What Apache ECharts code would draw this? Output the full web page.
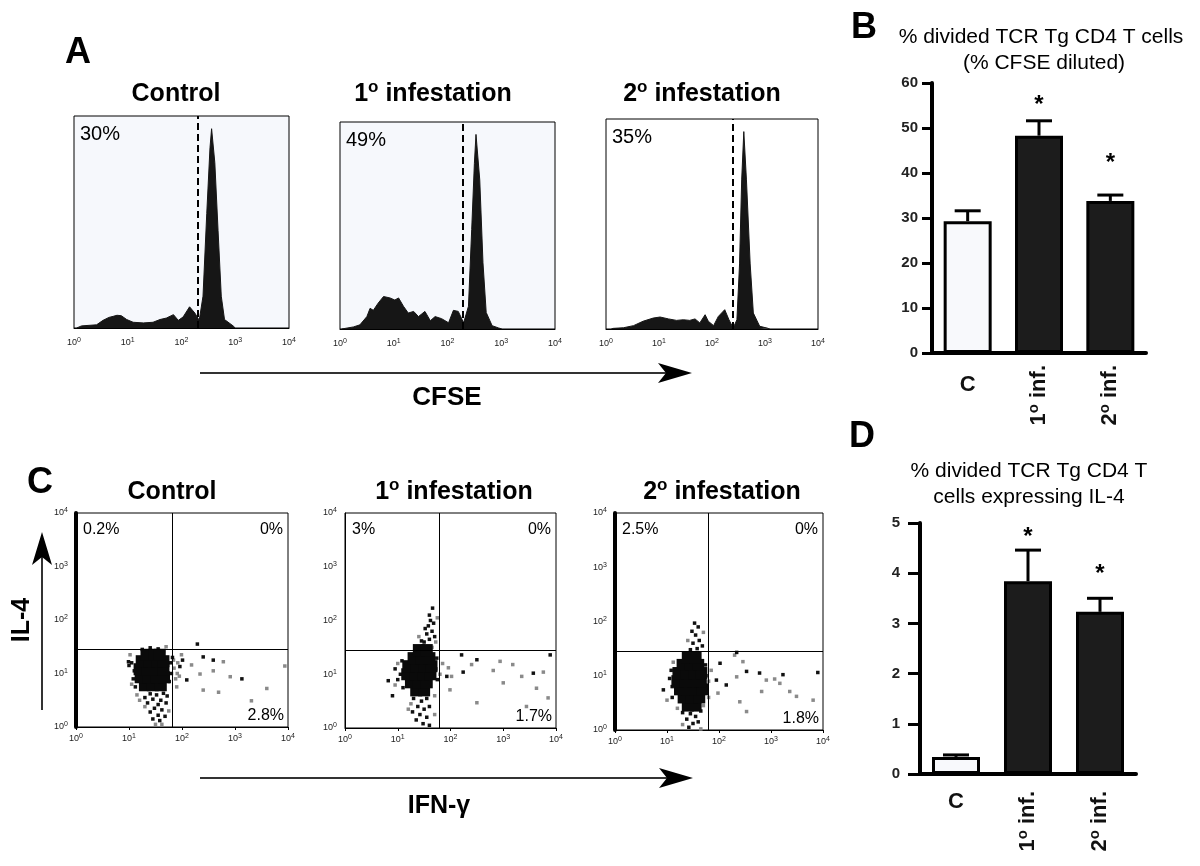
<!DOCTYPE html>
<html><head><meta charset="utf-8">
<script src="https://cdn.jsdelivr.net/npm/echarts@6/dist/echarts.min.js"></script>
<style>html,body{margin:0;padding:0;background:#fff}#c{width:1200px;height:866px}</style>
</head><body><div id="c"></div>
<script>
// ---------------- DATA ----------------
const panelTitles = ['Control', '1° infestation', '2° infestation'];
const decadeExp = ['0', '1', '2', '3', '4'];

// Panel A: CFSE histograms, x = log10(CFSE), y = % of max box height
const histPct = ['30%', '49%', '35%'];
const histGate = [2.30, 2.29, 2.40];
const histControl = [[0.05,0],[0.14,1],[0.42,1.5],[0.54,3.6],[0.65,5],[0.73,5.5],[0.8,6],[0.88,5.8],[0.98,4],[1.1,2.7],[1.29,2.4],[1.47,2.7],[1.6,4],[1.72,4.7],[1.85,6.3],[1.94,3.6],[2.03,5.2],[2.15,10],[2.25,7],[2.33,3.6],[2.4,15],[2.47,54],[2.53,85],[2.56,94],[2.62,78],[2.68,46],[2.74,15],[2.8,4],[2.96,1],[3.0,0]];
const histInf1 = [[0.03,0],[0.06,0.5],[0.25,1],[0.37,2],[0.5,6],[0.56,10],[0.62,9],[0.71,12.5],[0.81,15.7],[0.93,15],[1.02,14],[1.09,15],[1.18,11],[1.27,7.7],[1.37,8.5],[1.46,6],[1.58,8.5],[1.68,4],[1.77,6],[1.89,5],[2.02,3],[2.11,9],[2.2,8.5],[2.3,3],[2.39,11],[2.45,48],[2.5,80],[2.53,94],[2.6,72],[2.66,32],[2.72,8],[2.83,1.6],[2.95,0.5],[3.01,0]];
const histInf2 = [[0.1,0],[0.14,0.3],[0.33,0.6],[0.52,1.6],[0.7,3.7],[0.89,5.2],[1.02,5.7],[1.18,4.8],[1.33,4.1],[1.46,4.4],[1.58,4.1],[1.68,4.8],[1.77,2.9],[1.87,6.8],[1.93,3.7],[2.03,1.6],[2.12,6],[2.24,9.2],[2.32,4.4],[2.4,0.5],[2.47,4.4],[2.52,31],[2.56,71],[2.6,94],[2.65,71],[2.72,31],[2.78,7.6],[2.9,1.3],[3.06,0.3],[3.09,0]];

// Panel C: dot plots, x = log10(IFN-g), y = log10(IL-4)
const quadX = [1.81, 1.78, 1.80];
const quadY = [1.46, 1.45, 1.45];
const quadUL = ['0.2%', '3%', '2.5%'];
const quadUR = ['0%', '0%', '0%'];
const quadLR = ['2.8%', '1.7%', '1.8%'];
const ctrlCore = [[1.3,0.78],[1.45,0.78],[1.6,0.78],[1.22,0.93],[1.37,0.93],[1.52,0.93],[1.66,0.93],[1.2,1.08],[1.35,1.08],[1.5,1.08],[1.65,1.08],[1.24,1.23],[1.38,1.23],[1.53,1.23],[1.65,1.23],[1.33,1.35],[1.48,1.35],[1.58,1.35]];
const ctrlDark = [[1.4,0.62],[1.52,0.6],[1.65,0.63],[1.45,0.52],[1.6,0.5],[1.35,0.45],[1.55,0.42],[1.7,0.45],[1.48,0.35],[1.62,0.32],[1.4,0.28],[1.55,0.22],[1.68,0.2],[1.45,0.15],[1.58,0.12],[1.72,0.58],[1.3,0.55],[1.05,1.2],[1.1,1.05],[1.08,0.9],[1.0,1.15],[0.99,1.22],[1.12,0.75],[1.25,1.45],[1.4,1.48],[1.55,1.46],[1.65,1.42],[1.78,1.2],[1.8,1.0],[1.76,0.85],[1.82,1.3],[1.96,1.13],[2.09,0.88],[2.4,1.31],[2.59,1.25],[2.29,1.55],[3.13,0.9],[2.01,1.25]];
const ctrlLight = [[1.85,1.1],[1.88,0.9],[1.92,1.2],[1.15,0.6],[1.2,0.5],[1.3,0.38],[1.75,0.3],[1.62,0.05],[1.5,0.05],[1.05,0.8],[1.02,1.35],[1.7,1.5],[1.95,0.95],[1.99,1.35],[2.18,1.16],[2.34,0.99],[2.78,1.22],[2.91,0.94],[2.59,1.05],[2.4,0.69],[2.69,0.65],[3.6,0.72],[3.31,0.49],[3.94,1.14],[1.9,0.75],[1.91,1.0],[1.84,1.25]];
const inf1Core = [[1.35,0.7],[1.5,0.7],[1.25,0.85],[1.4,0.85],[1.55,0.85],[1.18,1.0],[1.33,1.0],[1.48,1.0],[1.62,1.0],[1.2,1.15],[1.35,1.15],[1.5,1.15],[1.64,1.15],[1.3,1.3],[1.45,1.3],[1.6,1.3],[1.4,1.45],[1.55,1.45]];
const inf1Dark = [[1.5,1.6],[1.6,1.65],[1.55,1.75],[1.65,1.8],[1.58,1.9],[1.62,2.0],[1.68,1.95],[1.6,2.1],[1.66,2.23],[1.45,1.62],[1.7,1.7],[1.52,1.85],[1.3,0.55],[1.45,0.5],[1.55,0.55],[1.38,0.4],[1.5,0.35],[1.42,0.25],[1.55,0.2],[1.35,0.15],[1.48,0.08],[1.6,0.05],[1.28,0.3],[1.6,0.4],[1.05,1.0],[1.0,0.9],[0.95,1.1],[1.08,1.25],[0.82,0.88],[0.9,0.6],[1.1,0.75],[1.72,1.1],[1.75,0.9],[1.74,1.3],[1.93,0.96],[2.24,1.04],[2.5,1.27],[3.89,1.36],[2.21,1.36],[3.57,1.02]];
const inf1Light = [[1.8,1.0],[1.85,1.2],[1.0,1.2],[0.95,0.8],[1.7,0.6],[1.25,0.45],[1.65,1.5],[1.72,1.6],[1.4,1.7],[1.75,2.05],[1.2,0.35],[1.7,0.25],[2.02,0.96],[2.4,1.18],[2.5,0.47],[2.81,1.07],[3.0,0.84],[3.18,1.18],[3.35,0.96],[3.76,1.04],[3.85,0.56],[3.63,0.74],[3.44,0.4],[2.94,1.24],[1.99,0.71],[1.96,1.12]];
const inf2Core = [[1.4,0.45],[1.55,0.45],[1.32,0.6],[1.47,0.6],[1.62,0.6],[1.25,0.75],[1.4,0.75],[1.55,0.75],[1.68,0.75],[1.2,0.9],[1.35,0.9],[1.5,0.9],[1.65,0.9],[1.22,1.05],[1.37,1.05],[1.52,1.05],[1.66,1.05],[1.3,1.2],[1.45,1.2],[1.6,1.2],[1.4,1.33],[1.55,1.33]];
const inf2Dark = [[1.45,1.48],[1.58,1.5],[1.5,1.6],[1.62,1.65],[1.55,1.75],[1.48,1.82],[1.6,1.9],[1.53,1.97],[1.68,1.55],[1.45,0.3],[1.55,0.25],[1.38,0.2],[1.5,0.12],[1.6,0.15],[1.42,0.05],[1.65,0.35],[1.3,0.32],[1.05,0.95],[1.08,1.1],[1.1,0.8],[0.93,0.74],[1.1,0.6],[1.75,1.0],[1.76,0.8],[1.74,1.2],[2.34,1.43],[2.53,1.08],[2.14,0.83],[3.23,1.02],[2.78,1.05],[3.9,1.06],[1.95,0.92],[2.02,1.23]];
const inf2Light = [[1.8,0.9],[1.85,1.1],[1.12,1.25],[1.0,0.55],[1.2,0.4],[1.7,0.45],[1.4,1.65],[1.7,1.8],[1.3,0.1],[1.8,0.6],[1.65,0.02],[2.3,1.38],[2.46,1.26],[2.4,0.52],[2.53,0.34],[2.91,0.92],[3.07,0.94],[3.36,0.71],[3.49,0.62],[3.81,0.55],[2.82,0.71],[3.17,0.86],[2.34,0.98],[1.98,0.68]];

// Panel B / D bar charts
const barCats = ['C', '1° inf.', '2° inf.'];
const titleB = ['% divided TCR Tg CD4 T cells', '(% CFSE diluted)'];
const meanB = [29.3, 48.3, 33.8];
const errB = [2.3, 3.3, 1.3];
const starB = [null, 56.2, 43.3];
const titleD = ['% divided TCR Tg CD4 T', 'cells expressing IL-4'];
const meanD = [0.34, 3.84, 3.23];
const errD = [0.04, 0.62, 0.27];
const starD = [null, 4.82, 4.08];

// ---------------- LAYOUT ----------------
const F = "'Liberation Sans', Arial, Helvetica, sans-serif";
const gA = [{left:74,top:116,width:215,height:212},{left:340,top:122,width:215,height:207},{left:606,top:119,width:212,height:210}];
const gC = [{left:76,top:513,width:212,height:214},{left:345,top:513,width:211,height:215},{left:615,top:513,width:208,height:217}];
const gB = {left:932,top:83,width:214,height:270};
const gD = {left:920,top:523,width:216,height:251};
const histBg = ['#f6f8fc', '#f6f8fc', '#ffffff'];
const hists = [histControl, histInf1, histInf2];
const dots = [[ctrlCore, ctrlDark, ctrlLight], [inf1Core, inf1Dark, inf1Light], [inf2Core, inf2Dark, inf2Light]];

function supRich(v, cls) {
  const m = /^(\d)°(.*)$/.exec(v);
  return m ? '{' + cls + '|' + m[1] + '}{' + cls + 's|o}{' + cls + '|' + m[2] + '}' : '{' + cls + '|' + v + '}';
}
const decRich = {
  b: {fontSize: 9, fontFamily: F, color: '#222', lineHeight: 12},
  e: {fontSize: 7, fontFamily: F, color: '#222', verticalAlign: 'top', lineHeight: 7}
};
const decFmt = v => '{b|10}{e|' + decadeExp[Math.round(v)] + '}';

const grid = [], xAxis = [], yAxis = [], series = [], graphic = [];

function txt(text, x, y, size, weight, align, vAlign, extra) {
  const o = {type: 'text', x: x, y: y, silent: true, style: {text: text, fontSize: size, fontWeight: weight || 'normal', fontFamily: F, fill: '#000', align: align || 'left', textAlign: align || 'left', verticalAlign: vAlign || 'middle', textVerticalAlign: vAlign || 'middle'}};
  if (extra) Object.assign(o, extra);
  return o;
}
const titleRich = {
  t: {fontSize: 25, fontWeight: 'bold', fontFamily: F, color: '#000', lineHeight: 30},
  ts: {fontSize: 17, fontWeight: 'bold', fontFamily: F, color: '#000', verticalAlign: 'top', lineHeight: 15}
};

// Panel A histograms
gA.forEach((g, i) => {
  grid.push(Object.assign({show: true, backgroundColor: histBg[i], borderColor: '#000', borderWidth: 1, containLabel: false}, g));
  xAxis.push({gridIndex: i, type: 'value', min: 0, max: 4, interval: 1,
    axisLine: {show: true, onZero: false, lineStyle: {color: '#000', width: 1}},
    axisTick: {show: false}, splitLine: {show: false},
    axisLabel: {formatter: decFmt, rich: decRich, margin: 9}});
  yAxis.push({gridIndex: i, type: 'value', min: 0, max: 100, show: true,
    axisLine: {show: false}, axisTick: {show: false}, axisLabel: {show: false}, splitLine: {show: false}});
  series.push({type: 'line', xAxisIndex: i, yAxisIndex: i, data: hists[i], showSymbol: false, symbol: 'none',
    lineStyle: {color: '#161616', width: 1}, areaStyle: {color: '#161616', opacity: 1}, z: 2,
    markLine: {silent: true, symbol: 'none', label: {show: false},
      lineStyle: {color: '#000', width: 2, type: [7, 4]}, data: [{xAxis: histGate[i]}]}});
  graphic.push(txt(histPct[i], g.left + 6, g.top + 18, 20));
});
// panel A titles
const aTitleX = [176, 433, 702];
aTitleX.forEach((x, i) => graphic.push({type: 'text', x: x, y: 94, silent: true,
  style: {text: supRich(panelTitles[i], 't'), rich: titleRich, align: 'center', textAlign: 'center', verticalAlign: 'middle', textVerticalAlign: 'middle'}}));

// Panel C dot plots
gC.forEach((g, k) => {
  const i = 3 + k;
  grid.push(Object.assign({show: true, backgroundColor: '#fff', borderColor: '#000', borderWidth: 1, containLabel: false}, g));
  xAxis.push({gridIndex: i, type: 'value', min: 0, max: 4, interval: 1,
    axisLine: {show: true, onZero: false, lineStyle: {color: '#000', width: 1}},
    axisTick: {show: true, length: 3, lineStyle: {color: '#000'}}, splitLine: {show: false},
    axisLabel: {formatter: decFmt, rich: decRich, margin: 6}});
  yAxis.push({gridIndex: i, type: 'value', min: 0, max: 4, interval: 1,
    axisLine: {show: true, onZero: false, lineStyle: {color: '#000', width: k === 1 ? 1 : 4}},
    axisTick: {show: false}, splitLine: {show: false},
    axisLabel: {formatter: decFmt, rich: decRich, margin: 8}});
  const [core, dark, light] = dots[k];
  series.push({type: 'scatter', xAxisIndex: i, yAxisIndex: i, data: light, symbol: 'rect', symbolSize: 3.5,
    itemStyle: {color: '#8a8a8a', opacity: 1}, z: 2});
  series.push({type: 'scatter', xAxisIndex: i, yAxisIndex: i, data: dark, symbol: 'rect', symbolSize: 3.5,
    itemStyle: {color: '#111', opacity: 1}, z: 3});
  series.push({type: 'scatter', xAxisIndex: i, yAxisIndex: i, data: core, symbol: 'rect', symbolSize: 12,
    itemStyle: {color: '#0a0a0a', opacity: 1}, z: 4,
    markLine: {silent: true, symbol: 'none', label: {show: false}, lineStyle: {color: '#000', width: 1, type: 'solid'},
      data: [{xAxis: quadX[k]}, {yAxis: quadY[k]}]}});
  graphic.push(txt(quadUL[k], g.left + 7, g.top + 17, 16));
  graphic.push(txt(quadUR[k], g.left + g.width - 5, g.top + 17, 16, 'normal', 'right'));
  graphic.push(txt(quadLR[k], g.left + g.width - 4, g.top + g.height - 11, 16, 'normal', 'right'));
});
const cTitleX = [172, 454, 722];
cTitleX.forEach((x, i) => graphic.push({type: 'text', x: x, y: 492, silent: true,
  style: {text: supRich(panelTitles[i], 't'), rich: titleRich, align: 'center', textAlign: 'center', verticalAlign: 'middle', textVerticalAlign: 'middle'}}));

// Bar charts B (grid 6) and D (grid 7)
const catRich = {
  c: {fontSize: 22, fontWeight: 'bold', fontFamily: F, color: '#111', lineHeight: 26},
  cs: {fontSize: 15, fontWeight: 'bold', fontFamily: F, color: '#111', verticalAlign: 'top', lineHeight: 12}
};
function barPanel(gi, g, means, errs, stars, yMax, labelMargin, cMargin, rotMargin, tickLen) {
  grid.push(Object.assign({show: false, containLabel: false}, g));
  const xi = xAxis.length;
  xAxis.push({gridIndex: gi, type: 'category', data: barCats, position: 'bottom',
    axisLine: {show: true, lineStyle: {color: '#000', width: 4}}, axisTick: {show: false},
    axisLabel: {interval: 0, margin: cMargin, formatter: (v, idx) => idx === 0 ? supRich(v, 'c') : '', rich: catRich}});
  xAxis.push({gridIndex: gi, type: 'category', data: barCats, position: 'bottom', offset: 0,
    axisLine: {show: false}, axisTick: {show: false},
    axisLabel: {interval: 0, rotate: 90, margin: rotMargin, formatter: (v, idx) => idx === 0 ? '' : supRich(v, 'c'), rich: catRich}});
  const yi = yAxis.length;
  yAxis.push({gridIndex: gi, type: 'value', min: 0, max: yMax, interval: yMax / (yMax === 60 ? 6 : 5),
    axisLine: {show: true, lineStyle: {color: '#000', width: 4}},
    axisTick: {show: true, length: tickLen, lineStyle: {color: '#000', width: 3}},
    splitLine: {show: false},
    axisLabel: {fontSize: 15, fontWeight: 'bold', fontFamily: F, color: '#222', margin: labelMargin}});
  series.push({type: 'custom', xAxisIndex: xi, yAxisIndex: yi, z: 2,
    data: means.map((m, i) => [i, m, m + errs[i]]),
    encode: {x: 0, y: [1, 2]},
    renderItem: (p, api) => {
      const a = api.coord([api.value(0), api.value(1)]);
      const b = api.coord([api.value(0), api.value(2)]);
      return {type: 'group', children: [
        {type: 'line', shape: {x1: a[0], y1: a[1], x2: b[0], y2: b[1]}, style: {stroke: '#000', lineWidth: 3}},
        {type: 'line', shape: {x1: b[0] - 13, y1: b[1], x2: b[0] + 13, y2: b[1]}, style: {stroke: '#000', lineWidth: 3}}]};
    }});
  series.push({type: 'bar', xAxisIndex: xi, yAxisIndex: yi, barWidth: 48, z: 3,
    data: means.map((m, i) => ({value: m, itemStyle: {color: i === 0 ? '#f8f9fc' : '#1c1c1c'}})),
    itemStyle: {borderColor: '#000', borderWidth: 3}});
  series.push({type: 'custom', xAxisIndex: xi, yAxisIndex: yi, z: 4,
    data: stars.map((s, i) => [i, s]).filter(d => d[1] !== null),
    renderItem: (p, api) => {
      const c = api.coord([api.value(0), api.value(1)]);
      return {type: 'text', x: c[0], y: c[1] + 5, style: {text: '*', fontSize: 24, fontWeight: 'bold', fontFamily: F, fill: '#000',
        align: 'center', textAlign: 'center', verticalAlign: 'middle', textVerticalAlign: 'middle'}};
    }});
}
barPanel(6, gB, meanB, errB, starB, 60, 14, 19, 12, 10);
barPanel(7, gD, meanD, errD, starD, 5, 20, 15, 17, 12);

// bar titles
graphic.push(txt(titleB[0], 1041, 37, 21, 'normal', 'center'));
graphic.push(txt(titleB[1], 1044, 63, 21, 'normal', 'center'));
graphic.push(txt(titleD[0], 1029, 471, 21, 'normal', 'center'));
graphic.push(txt(titleD[1], 1029, 497, 21, 'normal', 'center'));

// panel letters
graphic.push(txt('A', 78, 53, 36, 'bold', 'center'));
graphic.push(txt('B', 864, 28, 36, 'bold', 'center'));
graphic.push(txt('C', 40, 483, 36, 'bold', 'center'));
graphic.push(txt('D', 862, 437, 36, 'bold', 'center'));

// axis arrows and names
function hArrow(x1, x2, y) {
  graphic.push({type: 'line', silent: true, shape: {x1: x1, y1: y, x2: x2 - 26, y2: y}, style: {stroke: '#333', lineWidth: 2}});
  graphic.push({type: 'polygon', silent: true, shape: {points: [[x2, y], [x2 - 34, y - 10], [x2 - 26, y], [x2 - 34, y + 10]]}, style: {fill: '#000'}});
}
hArrow(200, 692, 373);
hArrow(200, 693, 778);
graphic.push({type: 'line', silent: true, shape: {x1: 42, y1: 710, x2: 42, y2: 556}, style: {stroke: '#333', lineWidth: 2}});
graphic.push({type: 'polygon', silent: true, shape: {points: [[42, 532], [32, 565], [42, 557], [52, 565]]}, style: {fill: '#000'}});
graphic.push(txt('CFSE', 447, 398, 26, 'bold', 'center'));
graphic.push(txt('IFN-γ', 439, 806, 25, 'bold', 'center'));
graphic.push(txt('IL-4', 22, 620, 25, 'bold', 'center', 'middle', {rotation: Math.PI / 2}));

const chart = echarts.init(document.getElementById('c'), null, {renderer: 'canvas'});
chart.setOption({animation: false, backgroundColor: '#fff', grid: grid, xAxis: xAxis, yAxis: yAxis, series: series, graphic: graphic});
</script>
</body></html>
